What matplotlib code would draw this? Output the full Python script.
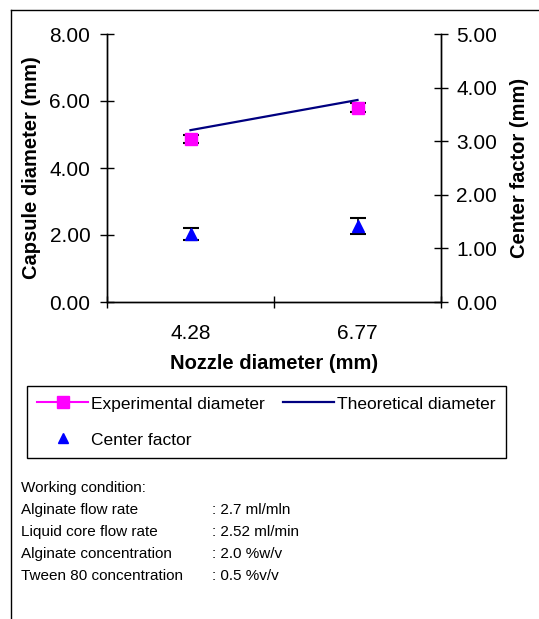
import matplotlib.pyplot as plt
from matplotlib.lines import Line2D
import numpy as np

plt.rcParams['font.family'] = ['Liberation Sans', 'DejaVu Sans']

# dados
bicos = ['4.28', '6.77']
exp_diam = [4.87, 5.80]
exp_err = [0.11, 0.13]
teo_diam = [5.13, 6.03]
fator_centro = [1.27, 1.42]
fator_err = [0.11, 0.15]

cond_nomes = ['Alginate flow rate', 'Liquid core flow rate',
              'Alginate concentration', 'Tween 80 concentration']
cond_valores = [': 2.7 ml/mln', ': 2.52 ml/min', ': 2.0 %w/v', ': 0.5 %v/v']

W, H = 539, 619
fig = plt.figure(figsize=(W / 100, H / 100), dpi=100)

def fx(px):
    return px / W

def fy(py):
    return 1 - py / H

ax = fig.add_axes([fx(107), fy(302), fx(441) - fx(107), fy(34) - fy(302)])
ax2 = ax.twinx()

x = np.arange(len(bicos))

# diametro experimental
ax.errorbar(x, exp_diam, yerr=exp_err, fmt='none', ecolor='black',
            elinewidth=1.2, capsize=5.5, capthick=1.5, zorder=2)
ax.plot(x, exp_diam, linestyle='none', marker='s', markersize=8.5,
        color='#FF00FF', zorder=3)
# diametro teorico
ax.plot(x, teo_diam, color='#000080', linewidth=1.6, zorder=3)

# fator de centro (eixo da direita)
ax2.errorbar(x, fator_centro, yerr=fator_err, fmt='none', ecolor='black',
             elinewidth=1.2, capsize=5.5, capthick=1.5, zorder=2)
ax2.plot(x, fator_centro, linestyle='none', marker='^', markersize=8.5,
         color='#0000FF', zorder=3)

ax.set_xlim(-0.5, 1.5)
ax.set_ylim(0, 8)
ax2.set_ylim(0, 5)

ax.set_xticks([-0.5, 0.5, 1.5])
ax.set_xticklabels([])
ax.set_xticks(x, minor=True)
ax.set_xticklabels(bicos, minor=True)
ax.tick_params(axis='x', which='major', direction='inout', length=8, width=1)
ax.tick_params(axis='x', which='minor', length=0, labelsize=15, pad=16)

ax.set_yticks(np.arange(0, 9, 2))
ax.set_yticklabels(['%.2f' % v for v in np.arange(0, 9, 2)])
ax2.set_yticks(np.arange(0, 6, 1))
ax2.set_yticklabels(['%.2f' % v for v in np.arange(0, 6, 1)])
ax.tick_params(axis='y', direction='inout', length=10, width=1, labelsize=15, pad=7)
ax2.tick_params(axis='y', direction='inout', length=10, width=1, labelsize=15, pad=6)

for a in (ax, ax2):
    a.spines['top'].set_visible(False)
    for s in a.spines.values():
        s.set_linewidth(1)

ax.set_xlabel('Nozzle diameter (mm)', fontsize=14.5, fontweight='bold', labelpad=8)
ax.set_ylabel('Capsule diameter (mm)', fontsize=14.5, fontweight='bold', labelpad=6)
ax2.set_ylabel('Center factor (mm)', fontsize=14.5, fontweight='bold', labelpad=9)

# legenda
h_exp = Line2D([], [], color='#FF00FF', marker='s', markersize=8, linewidth=1.5)
h_teo = Line2D([], [], color='#000080', linewidth=1.6)
h_cf = Line2D([], [], color='#0000FF', marker='^', linestyle='none', markersize=7)
leg = fig.legend([h_exp, h_cf, h_teo],
                 ['Experimental diameter', 'Center factor', 'Theoretical diameter'],
                 ncol=2, loc='upper left',
                 bbox_to_anchor=(fx(27), fy(460), fx(506) - fx(27), fy(386) - fy(460)),
                 mode='expand', fontsize=12.5, handlelength=2.9, handletextpad=0.2,
                 labelspacing=1.2, borderpad=0.6, borderaxespad=0,
                 fancybox=False, edgecolor='black', framealpha=1)
leg.get_frame().set_linewidth(1)

# condicoes de trabalho
fig.text(fx(21), fy(488), 'Working condition:', fontsize=11, va='center')
for i, (nome, valor) in enumerate(zip(cond_nomes, cond_valores)):
    yy = fy(510 + 22 * i)
    fig.text(fx(21), yy, nome, fontsize=11, va='center')
    fig.text(fx(212), yy, valor, fontsize=11, va='center')

# moldura
fig.add_artist(Line2D([fx(11), 1], [fy(10), fy(10)], color='black', linewidth=1))
fig.add_artist(Line2D([fx(11), fx(11)], [0, fy(10)], color='black', linewidth=1))

fig.savefig('out.png', dpi=100)
